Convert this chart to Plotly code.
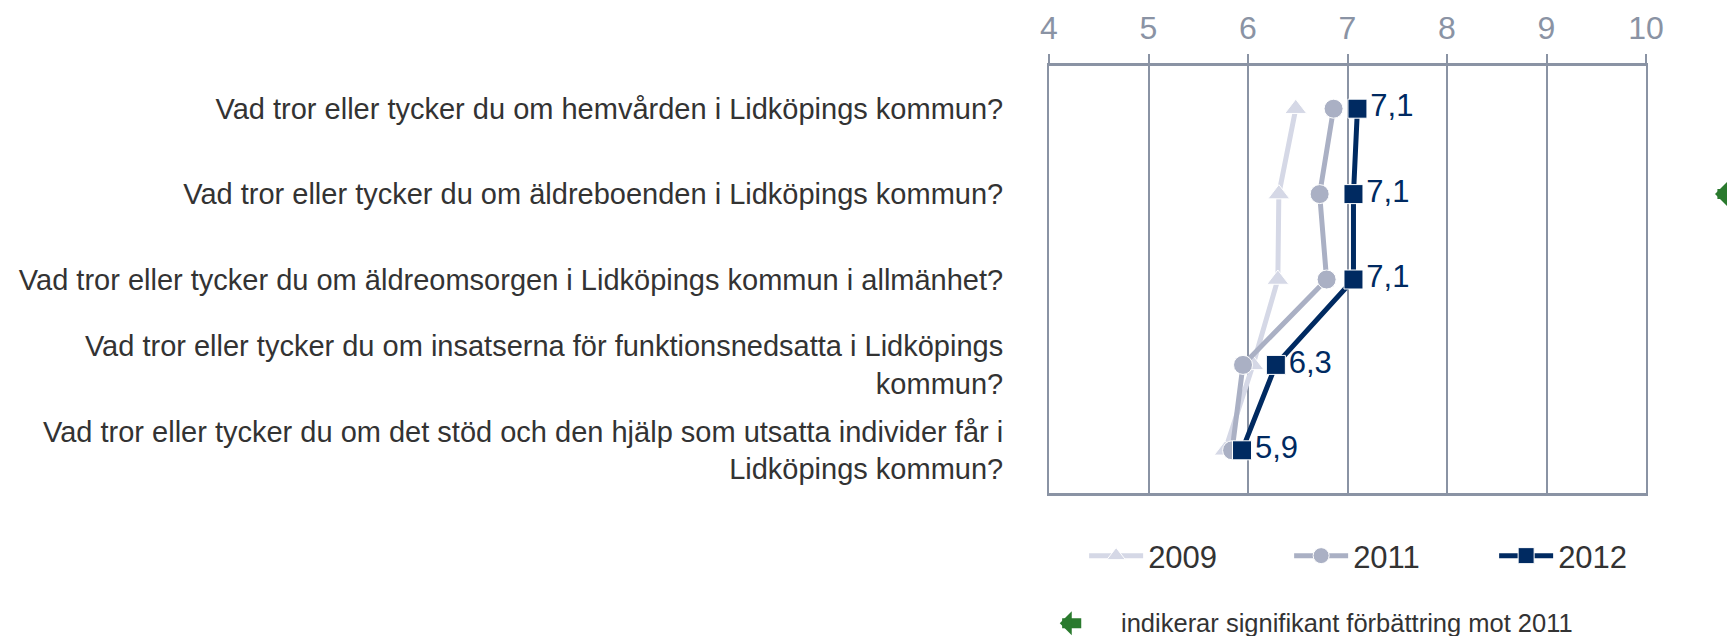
import plotly.graph_objects as go

# survey questions (top to bottom)
questions = [
    "Vad tror eller tycker du om hemvården i Lidköpings kommun?",
    "Vad tror eller tycker du om äldreboenden i Lidköpings kommun?",
    "Vad tror eller tycker du om äldreomsorgen i Lidköpings kommun i allmänhet?",
    "Vad tror eller tycker du om insatserna för funktionsnedsatta i Lidköpings<br>kommun?",
    "Vad tror eller tycker du om det stöd och den hjälp som utsatta individer får i<br>Lidköpings kommun?",
]

# index values per year
v2009 = [6.48, 6.31, 6.30, 6.05, 5.77]
v2011 = [6.86, 6.72, 6.79, 5.95, 5.84]
v2012 = [7.10, 7.06, 7.06, 6.28, 5.94]

# significant improvement vs 2011
significant = [False, True, False, False, False]

x_ticks = [4, 5, 6, 7, 8, 9, 10]

NAVY = '#002a61'
MID = '#aab0c4'
LIGHT = '#d5d8e6'
GRID = '#8a93a4'
GREEN = '#2a7a2e'
TEXT = '#333333'

fig = go.Figure()

fig.add_trace(go.Scatter(
    x=v2009, y=questions, name='2009',
    mode='lines+markers',
    line=dict(color=LIGHT, width=5),
    marker=dict(symbol='triangle-up', size=19, color=LIGHT, line=dict(width=1, color='white')),
    cliponaxis=False
))
fig.add_trace(go.Scatter(
    x=v2011, y=questions, name='2011',
    mode='lines+markers',
    line=dict(color=MID, width=5),
    marker=dict(symbol='circle', size=19, color=MID, line=dict(width=1, color='white')),
    cliponaxis=False
))
fig.add_trace(go.Scatter(
    x=v2012, y=questions, name='2012',
    mode='lines+markers',
    line=dict(color=NAVY, width=5),
    marker=dict(symbol='square', size=19, color=NAVY, line=dict(width=1, color='white')),
    cliponaxis=False
))
# value labels for 2012 (invisible markers keep the text off the squares)
fig.add_trace(go.Scatter(
    x=v2012, y=questions,
    mode='markers+text',
    marker=dict(size=19, color='rgba(0,0,0,0)'),
    text=[f'{v:.1f}'.replace('.', ',') for v in v2012],
    textposition='middle right',
    textfont=dict(size=31, color=NAVY),
    showlegend=False,
    hoverinfo='skip',
    cliponaxis=False
))

annotations = []
# green arrows for significant rows
for q, sig in zip(questions, significant):
    if sig:
        annotations.append(dict(
            xref='paper', yref='y', x=1.1156, y=q,
            text=' ', font=dict(size=1),
            showarrow=True, ax=26, ay=0,
            arrowhead=1, arrowwidth=10, arrowsize=0.4, arrowcolor=GREEN
        ))

# footnote
annotations.append(dict(
    xref='paper', yref='paper', x=0.018, y=-0.305,
    text=' ', font=dict(size=1),
    showarrow=True, ax=23, ay=0,
    arrowhead=1, arrowwidth=10, arrowsize=0.4, arrowcolor=GREEN
))
annotations.append(dict(
    xref='paper', yref='paper', x=0.118, y=-0.305,
    xanchor='left', yanchor='middle', showarrow=False,
    text='indikerar signifikant förbättring mot 2011',
    font=dict(size=25.5, color=TEXT)
))

fig.update_layout(
    width=1735, height=636, autosize=False,
    margin=dict(l=1041, r=97, t=58, b=151),
    plot_bgcolor='white',
    paper_bgcolor='white',
    font=dict(family='Liberation Sans, Arial, sans-serif', size=29, color=TEXT),
    xaxis=dict(
        side='top',
        range=[4, 10],
        tickvals=x_ticks,
        ticktext=[str(t) for t in x_ticks],
        tickfont=dict(size=32, color=GRID),
        ticks='outside', ticklen=9, tickwidth=1.5, tickcolor=GRID,
        ticklabelstandoff=2,
        showline=True, mirror=True, linewidth=3, linecolor=GRID,
        showgrid=True, gridcolor=GRID, gridwidth=1.5,
        zeroline=False, fixedrange=True, automargin=False
    ),
    yaxis=dict(
        type='category',
        categoryorder='array', categoryarray=questions,
        range=[4.5, -0.5],
        tickfont=dict(size=29, color=TEXT),
        ticks='', ticklabelstandoff=38,
        showline=True, mirror=True, linewidth=2, linecolor=GRID,
        showgrid=False, zeroline=False, fixedrange=True, automargin=False
    ),
    legend=dict(
        orientation='h',
        x=1.089, xanchor='right',
        y=-0.1475, yanchor='middle',
        font=dict(size=31, color=TEXT),
        itemwidth=54,
        entrywidth=136,
        bgcolor='rgba(0,0,0,0)'
    ),
    annotations=annotations,
    showlegend=True
)

fig.write_html("out.html")
